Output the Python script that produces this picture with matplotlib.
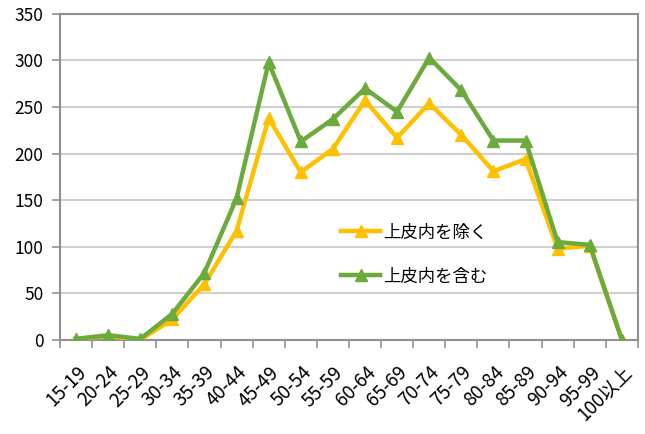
import matplotlib
matplotlib.use("Agg")
import matplotlib.pyplot as plt
import numpy as np

plt.rcParams['font.family'] = ['Noto Sans CJK JP', 'DejaVu Sans']

categories = ["15-19", "20-24", "25-29", "30-34", "35-39", "40-44", "45-49", "50-54",
              "55-59", "60-64", "65-69", "70-74", "75-79", "80-84", "85-89", "90-94",
              "95-99", "100以上"]
excl = [1, 4, 0, 22, 60, 117, 238, 180, 205, 257, 217, 254, 220, 181, 194, 98, 101, 0]
incl = [1, 5, 1, 28, 72, 152, 298, 213, 237, 270, 245, 303, 268, 214, 214, 105, 102, 0]
yticks = [0, 50, 100, 150, 200, 250, 300, 350]

fig = plt.figure(figsize=(6.45, 4.34), dpi=100)
ax = fig.add_axes([0.093, 0.217, 0.896, 0.751])
x = np.arange(len(categories))
ax.plot(x, excl, color='#FFC000', lw=3.2, marker='^', ms=8, label='上皮内を除く', zorder=3)
ax.plot(x, incl, color='#6BAA3C', lw=3.2, marker='^', ms=8, label='上皮内を含む', zorder=4)

ax.set_xlim(-0.5, len(categories) - 0.5)
ax.set_ylim(0, 350)
ax.set_yticks(yticks)
ax.set_yticklabels([str(v) for v in yticks], fontsize=12.5)
ax.yaxis.grid(True, color='#D0D0D0', lw=1.5)
ax.set_axisbelow(True)

ax.set_xticks(x)
ax.set_xticklabels(categories, rotation=45, ha='right', rotation_mode='anchor', fontsize=13.5)
ax.tick_params(axis='x', length=0, pad=16)
ax.set_xticks(np.arange(-0.5, len(categories) + 0.5, 1), minor=True)
ax.tick_params(axis='x', which='minor', length=6, color='#909090', width=1.2, direction='out')
ax.tick_params(axis='y', length=6, color='#909090', width=1.2, direction='out', pad=6)

for s in ['left', 'bottom', 'top', 'right']:
    ax.spines[s].set_color('#909090')
    ax.spines[s].set_linewidth(1.5)

leg = ax.legend(loc='upper left', bbox_to_anchor=(0.46, 0.405), frameon=False,
                fontsize=12.5, handlelength=2.2, labelspacing=1.5, handletextpad=0.2)

fig.savefig('out.png', dpi=100)
